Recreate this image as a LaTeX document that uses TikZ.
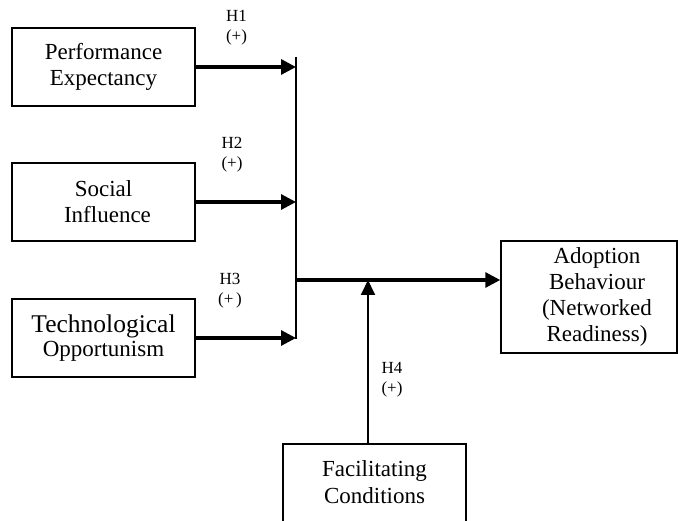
\documentclass[tikz,border=0pt]{standalone}
\usepackage{fontspec}
\setmainfont{Liberation Serif}
\usetikzlibrary{arrows.meta}
\begin{document}
\begin{tikzpicture}[x=1pt,y=-1pt,
  boxnode/.style={draw, line width=1.5pt, inner sep=0pt, align=center,
    font=\fontsize{23}{26}\selectfont},
  hyplabel/.style={align=center, inner sep=0pt, font=\fontsize{17}{20}\selectfont},
  bigarrow/.style={line width=3.2pt, -{Triangle[length=15pt,width=15pt]}},
  thinarrow/.style={line width=2pt, -{Triangle[length=15pt,width=14pt]}},
  joinline/.style={line width=1.8pt}]
\useasboundingbox (0,0) rectangle (678,521);
% boxes
\node[boxnode, minimum width=183pt, minimum height=78pt] (pe) at (103.5,67) {Performance\\Expectancy};
\node[boxnode, minimum width=183pt, minimum height=78pt] (si) at (103.5,202) {Social\\\hspace*{8pt}Influence};
\node[boxnode, minimum width=183pt, minimum height=78pt, font=\fontsize{23}{24}\selectfont] (to) at (103.5,338) {{\fontsize{25.5}{24}\selectfont Technological}\\Opportunism};
\node[boxnode, minimum width=176pt, minimum height=112pt] (ab) at (589,297)
  {\hspace*{16pt}\begin{tabular}{@{}c@{}}Adoption\\Behaviour\\(Networked\\Readiness)\end{tabular}};
\node[inner sep=0pt, align=center, font=\fontsize{23}{27}\selectfont, minimum width=183pt, minimum height=77pt] (fc) at (374.5,482.5) {Facilitating\\Conditions};
\draw[line width=1.5pt] (fc.south west) -- (fc.north west) -- (fc.north east) -- (fc.south east);
% junction coordinates
\coordinate (vtop) at (296,57);
\coordinate (vbot) at (296,339);
\coordinate (junc) at (296,280);
\coordinate (fcin) at (368,280);
\draw[joinline] (vtop) -- (vbot);
% arrows
\draw[bigarrow] (pe.east) -- (pe.east -| vtop);
\draw[bigarrow] (si.east) -- (si.east -| vtop);
\draw[bigarrow] (to.east) -- (to.east -| vtop);
\draw[bigarrow] (junc) -- (junc -| ab.west);
\draw[thinarrow] (fcin |- fc.north) -- (fcin);
% labels
\node[hyplabel] (h1) at (236.5,28) {H1\\(+)};
\node[hyplabel] (h2) at (232,155) {H2\\(+)};
\node[hyplabel] (h3) at (230,291) {H3\\(+\,)};
\node[hyplabel] (h4) at (392,379.5) {H4\\(+)};
\end{tikzpicture}
\end{document}
